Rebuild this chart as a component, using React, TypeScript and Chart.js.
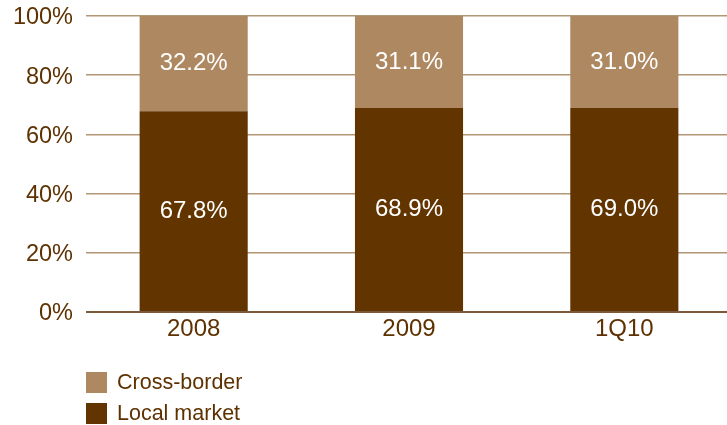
import React, { useEffect, useRef } from "react";
import { Chart, registerables } from "chart.js";

Chart.register(...registerables);

const categories = ["2008", "2009", "1Q10"];
const localMarket = [67.8, 68.9, 69.0];
const crossBorder = [32.2, 31.1, 31.0];
const yTicks = [0, 20, 40, 60, 80, 100];

const TEXT = "#5e3100";
const LIGHT = "#ae8861";
const DARK = "#623400";
const FONT = "'Liberation Sans', Arial, Helvetica, sans-serif";

const valueLabels = {
  id: "valueLabels",
  afterDatasetsDraw(chart: any) {
    const ctx = chart.ctx;
    ctx.save();
    ctx.fillStyle = "#ffffff";
    ctx.font = `24px ${FONT}`;
    ctx.textAlign = "center";
    ctx.textBaseline = "middle";
    chart.data.datasets.forEach((ds: any, i: number) => {
      const meta = chart.getDatasetMeta(i);
      meta.data.forEach((bar: any, j: number) => {
        const v = ds.data[j];
        const y = (bar.y + bar.base) / 2;
        ctx.fillText(v.toFixed(1) + "%", bar.x, y);
      });
    });
    ctx.restore();
  },
};

const customLegend = {
  id: "customLegend",
  afterDraw(chart: any) {
    const ctx = chart.ctx;
    const left = chart.chartArea.left;
    const items = [...chart.data.datasets].reverse();
    ctx.save();
    ctx.font = `21.5px ${FONT}`;
    ctx.textBaseline = "middle";
    ctx.textAlign = "left";
    items.forEach((ds: any, i: number) => {
      const top = 372 + i * 31;
      ctx.fillStyle = ds.backgroundColor;
      ctx.fillRect(left, top, 21, 21);
      ctx.fillStyle = TEXT;
      ctx.fillText(ds.label, left + 31, top + 11);
    });
    ctx.restore();
  },
};

export default function App() {
  const ref = useRef<HTMLCanvasElement | null>(null);

  useEffect(() => {
    document.documentElement.style.overflow = "hidden";
    document.body.style.margin = "0";
    document.body.style.overflow = "hidden";
    const chart = new Chart(ref.current as HTMLCanvasElement, {
      type: "bar",
      data: {
        labels: categories,
        datasets: [
          { label: "Local market", data: localMarket, backgroundColor: DARK, borderWidth: 0 },
          { label: "Cross-border", data: crossBorder, backgroundColor: LIGHT, borderWidth: 0 },
        ],
      },
      options: {
        animation: false,
        responsive: false,
        devicePixelRatio: 1,
        layout: { padding: { top: 16, left: 0, right: 0, bottom: 0 } },
        categoryPercentage: 1,
        barPercentage: 0.502,
        plugins: {
          legend: { display: false },
          tooltip: { enabled: false },
        },
        scales: {
          x: {
            stacked: true,
            grid: { display: false, drawTicks: false },
            border: { display: false },
            ticks: { color: TEXT, font: { family: FONT, size: 24 }, padding: 3 },
            afterFit(scale: any) {
              scale.height = 113;
            },
          },
          y: {
            stacked: true,
            min: 0,
            max: 100,
            afterBuildTicks(scale: any) {
              scale.ticks = yTicks.map((v) => ({ value: v }));
            },
            grid: {
              drawTicks: false,
              color: (c: any) => (c.tick && c.tick.value === 0 ? "#7a5a3a" : "#b39675"),
              lineWidth: (c: any) => (c.tick && c.tick.value === 0 ? 2 : 1.5),
            },
            border: { display: false },
            ticks: {
              color: TEXT,
              font: { family: FONT, size: 23.5, lineHeight: 0.5 },
              padding: 13,
              labelOffset: 2,
              callback: (v: any) => v + "%",
            },
            afterFit(scale: any) {
              scale.width = 86;
              scale.paddingTop = 0;
              scale.paddingBottom = 0;
            },
          },
        },
      },
      plugins: [valueLabels, customLegend],
    });
    return () => chart.destroy();
  }, []);

  return (
    <div style={{ width: 727, height: 425, overflow: "hidden" }}>
      <canvas ref={ref} width={732} height={425} style={{ display: "block" }} />
    </div>
  );
}
